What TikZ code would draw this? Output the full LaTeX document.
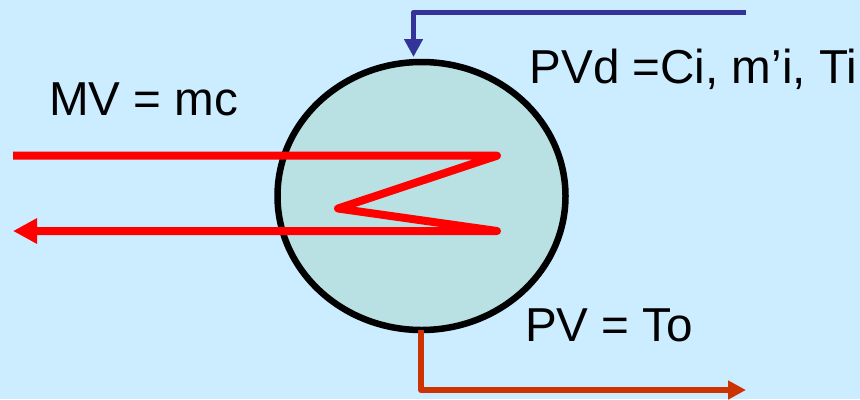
\documentclass[tikz,border=0pt]{standalone}
\usepackage{fontspec}
\setmainfont{Liberation Sans}
\usetikzlibrary{arrows.meta,shapes.geometric}
\definecolor{bgblue}{HTML}{CCECFF}
\definecolor{tankfill}{HTML}{B9E0E3}
\definecolor{feedblue}{HTML}{333399}
\definecolor{outorange}{HTML}{CC3300}
\definecolor{coilred}{HTML}{FF0000}
\tikzset{
  x=1bp,y=-1bp,
  tank/.style={ellipse,draw=black,fill=tankfill,line width=6.5bp,minimum width=288bp,minimum height=268bp,inner sep=0pt,outer sep=0pt},
  lbl/.style={anchor=base west,inner sep=0pt,outer sep=0pt,text=black,font=\fontsize{47.6bp}{52bp}\selectfont},
  feedline/.style={draw=feedblue,line width=5.5bp,line join=round,-{Triangle[length=18bp,width=18bp,sep=0pt]}},
  outline/.style={draw=outorange,line width=6bp,line join=round,-{Triangle[length=18bp,width=18bp,sep=0pt]}},
  coil/.style={draw=coilred,line width=8bp,line join=round,-{Triangle[length=24bp,width=24bp,sep=0pt]}},
}
\begin{document}
\begin{tikzpicture}
\path[use as bounding box,fill=bgblue] (0,0) rectangle (860,399);
\node[tank] (t) at (421.5,196) {};
\coordinate (fs) at (746,12.5);
\coordinate (fc) at (413.5,12.5);
\coordinate (fe) at (413.5,57);
\draw[feedline] (fs) -- (fc) -- (fe);
\coordinate (os) at (421,330);
\coordinate (oc) at (421,390);
\coordinate (oe) at (746,390);
\draw[outline] (os) -- (oc) -- (oe);
\coordinate (c1) at (13,155.7);
\coordinate (c2) at (497,155.7);
\coordinate (c3) at (338,208.5);
\coordinate (c4) at (497,231);
\coordinate (c5) at (13,231);
\draw[coil] (c1) -- (c2) -- (c3) -- (c4) -- (c5);
\node[lbl] (mv) at (49,115) {MV = mc};
\node[lbl] (pvd) at (529.5,83) {PVd =Ci, m’i, Ti};
\node[lbl] (pv) at (525,341) {PV = T{}o};
\end{tikzpicture}
\end{document}
